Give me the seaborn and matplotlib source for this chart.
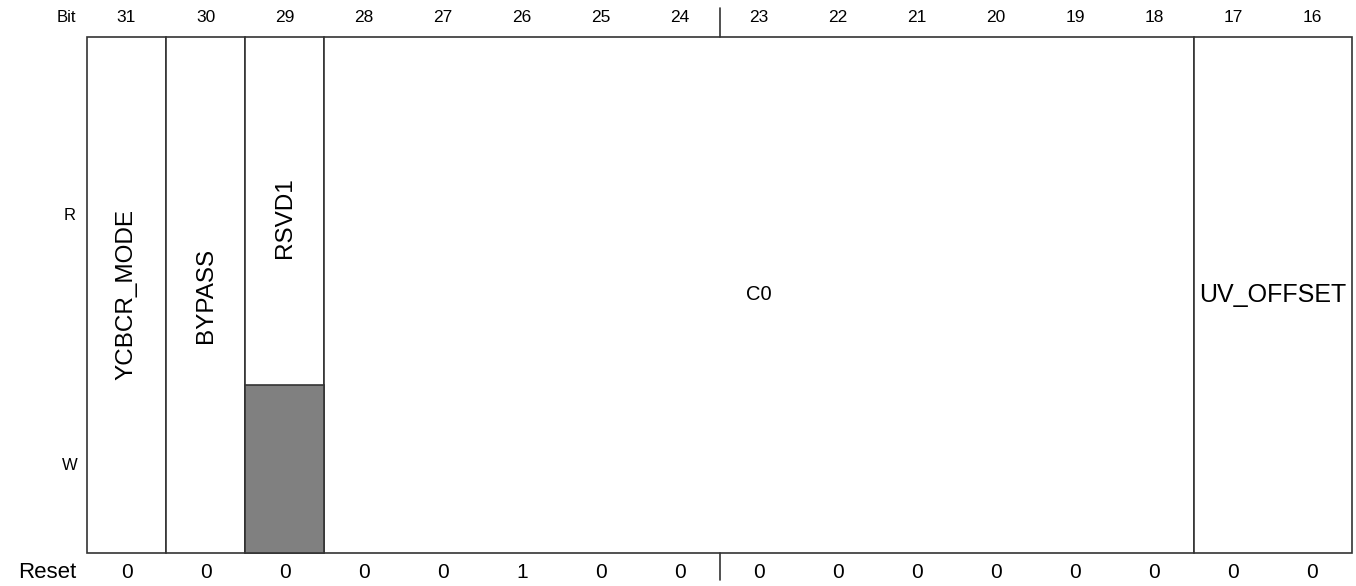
import matplotlib
matplotlib.use("Agg")
import matplotlib.pyplot as plt
import seaborn as sns

# register layout (bits 31..16)
bits = list(range(31, 15, -1))
field_names = ["YCBCR_MODE", "BYPASS", "RSVD1", "C0", "UV_OFFSET"]
field_msb = [31, 30, 29, 28, 17]
field_lsb = [31, 30, 29, 18, 16]
field_vertical = [True, True, True, False, False]
field_fontsize = [17.5, 17.5, 17.5, 14.5, 18]
write_only_gray = ["RSVD1"]   # fields whose W half is shaded
reset_values = [0, 0, 0, 0, 0, 1, 0, 0, 0, 0, 0, 0, 0, 0, 0, 0]

sns.set_style("white")
plt.rcParams["font.family"] = ["Liberation Sans", "DejaVu Sans"]
plt.rcParams["text.color"] = "black"

W, H = 1356, 586
fig = plt.figure(figsize=(W / 100, H / 100), dpi=100)
ax = fig.add_axes([87 / W, 33 / H, 1265 / W, 516 / H])
ax.set_xlim(0, 16)
ax.set_ylim(0, 1)
ax.axis("off")

split = (553 - 385) / 516   # R / W boundary
edge = "#333333"

# field boxes
for name, msb, lsb, vert, fs in zip(field_names, field_msb, field_lsb,
                                    field_vertical, field_fontsize):
    left = 31 - msb
    width = msb - lsb + 1
    ax.bar(left, 1, width=width, align="edge", color="white",
           edgecolor=edge, linewidth=1.2, zorder=1, clip_on=False)
    if name in write_only_gray:
        ax.bar(left, split, width=width, align="edge", color="#808080",
               edgecolor=edge, linewidth=1.2, zorder=2, clip_on=False)
        ty = 0.649
    else:
        ty = 0.5
    ax.text(left + width / 2, ty, name, rotation=90 if vert else 0,
            ha="center", va="center", fontsize=fs, zorder=3)

# bit numbers and reset values
for i, (b, r) in enumerate(zip(bits, reset_values)):
    ax.text(i + 0.5, 1 + 19 / 516, str(b), ha="center", va="center",
            fontsize=12.5, clip_on=False)
    ax.text(i + 0.5, -20 / 516, str(r), ha="center", va="center",
            fontsize=15, clip_on=False)

# row labels
ax.text(-0.14, 1 + 19 / 516, "Bit", ha="right", va="center", fontsize=12, clip_on=False)
ax.text(-0.215, 0.655, "R", ha="center", va="center", fontsize=12, clip_on=False)
ax.text(-0.215, (553 - 465) / 516, "W", ha="center", va="center", fontsize=12, clip_on=False)
ax.text(-0.14, -20 / 516, "Reset", ha="right", va="center", fontsize=16, clip_on=False)

# halfword divider ticks between bit 24 and 23
ax.plot([8, 8], [1, 1 + 29 / 516], color=edge, linewidth=1.2, clip_on=False)
ax.plot([8, 8], [0, -27 / 516], color=edge, linewidth=1.2, clip_on=False)

fig.savefig("out.png", dpi=100)
plt.close(fig)
